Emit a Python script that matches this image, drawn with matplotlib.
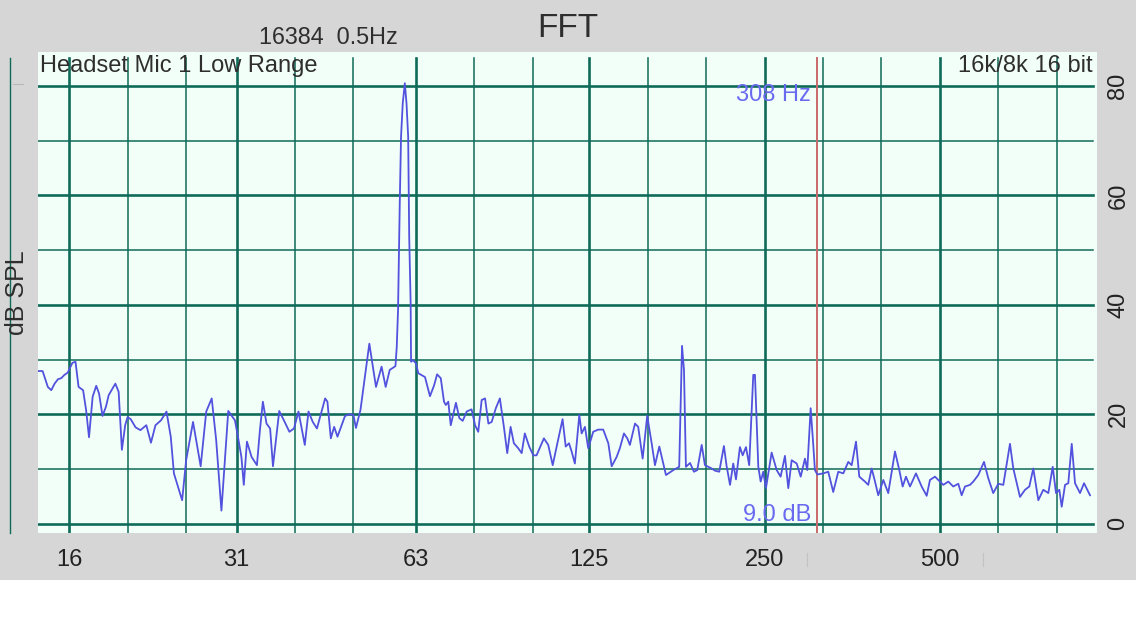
import matplotlib
matplotlib.use("Agg")
import matplotlib.pyplot as plt
from matplotlib.patches import Rectangle
from matplotlib.lines import Line2D

plt.rcParams['font.family'] = ['Liberation Sans', 'DejaVu Sans']

# ---------------- data ----------------
freq_hz = [14.1, 14.4, 14.7, 14.9, 15.1, 15.3, 15.5, 15.7, 15.9, 16.2, 16.4, 16.6, 16.9, 17.1, 17.3,
           17.55, 17.8, 18.0, 18.25, 18.5, 18.7, 19.2, 19.45, 19.7, 19.96, 20.15, 20.4, 20.8, 21.2,
           21.7, 22.1, 22.5, 23.0, 23.5, 23.9, 24.2, 25.0, 25.4, 26.1, 26.9, 27.5, 28.1, 28.6, 29.2,
           30.0, 30.8, 31.1, 31.6, 31.9, 32.3, 32.9, 33.6, 34.0, 34.4, 34.9, 35.4, 35.8, 36.7, 37.5,
           38.2, 38.9, 39.6, 40.6, 41.2, 41.9, 42.6, 44.0, 44.4, 45.0, 45.6, 46.2, 47.6, 48.5, 49.2,
           49.7, 50.6, 52.4, 53.8, 55.0, 55.9, 56.8, 58.1, 58.4, 58.7, 59.1, 59.4, 59.8, 60.3, 60.7,
           61.1, 61.35, 61.7, 61.8, 62.3, 63.0, 63.6, 65.3, 66.6, 67.7, 68.5, 69.5, 70.4, 70.9, 71.6,
           72.3, 73.8, 74.8, 75.8, 77.0, 78.5, 79.6, 80.6, 81.7, 82.8, 83.9, 85.0, 86.4, 87.8, 89.2,
           90.4, 91.6, 92.8, 94.4, 95.7, 96.9, 98.6, 100.2, 101.5, 104.5, 106.3, 108.2, 109.9, 112.5,
           113.9, 115.4, 116.6, 118.1, 120.2, 121.3, 122.9, 124.5, 127.0, 129.5, 132.1, 134.8, 136.6,
           139.3, 141.1, 143.4, 145.3, 146.8, 149.8, 151.7, 154.4, 157.2, 160.0, 162.1, 164.9, 169.3,
           174.3, 178.4, 180.4, 181.8, 183.2, 186.2, 189.1, 191.6, 195.0, 197.5, 202.8, 205.5, 209.0,
           212.9, 215.2, 218.1, 220.9, 223.3, 226.8, 229.3, 232.3, 235.3, 239.1, 240.7, 243.9, 246.2,
           248.7, 251.4, 257.1, 262.3, 266.4, 271.0, 274.6, 278.3, 283.9, 288.4, 293.3, 296.0, 300.0,
           303.1, 305.1, 308.0, 315.3, 321.6, 328.0, 334.6, 341.3, 348.1, 352.8, 358.9, 363.6, 371.8,
           376.7, 381.8, 386.9, 391.9, 399.8, 407.7, 418.7, 425.9, 431.6, 437.3, 444.3, 454.9, 465.3,
           474.6, 480.8, 490.4, 500.2, 506.8, 516.9, 527.2, 537.8, 545.0, 552.2, 563.2, 570.6, 582.0,
           595.3, 605.5, 617.5, 629.9, 642.5, 659.7, 668.4, 686.3, 700.1, 712.1, 723.4, 737.9, 752.6,
           767.7, 781.1, 791.4, 801.8, 809.4, 820.1, 830.8, 842.1, 853.2, 870.2, 884.1, 905.3]

level_db = [27.9, 27.9, 25.0, 24.4, 25.6, 26.4, 26.6, 27.2, 27.6, 29.4, 29.6, 25.0, 24.4, 20.8, 15.8,
            23.2, 25.2, 23.8, 19.7, 21.4, 23.5, 25.6, 24.1, 13.5, 18.0, 19.5, 19.1, 17.6, 17.1,
            18.0, 14.8, 18.0, 18.9, 20.5, 15.9, 9.2, 4.3, 11.6, 18.6, 10.5, 20.5, 22.9, 15.3, 2.4,
            20.6, 18.9, 16.5, 12.2, 7.1, 15.0, 12.2, 10.7, 17.1, 22.3, 18.3, 17.4, 10.5, 20.6, 18.6,
            16.8, 17.4, 20.5, 14.4, 20.5, 18.6, 17.4, 22.9, 22.3, 15.6, 17.7, 15.9, 19.7, 20.0, 19.9,
            17.5, 20.8, 32.9, 25.0, 28.7, 25.0, 28.1, 28.8, 32.3, 39.0, 58.5, 70.7, 76.8, 80.5, 76.8,
            70.7, 52.4, 40.3, 29.6, 29.9, 29.3, 27.5, 26.8, 23.3, 25.3, 27.3, 26.6, 22.3, 21.7, 22.3,
            18.0, 22.1, 19.3, 18.8, 20.5, 20.9, 18.0, 16.8, 22.6, 22.9, 18.3, 18.6, 21.1, 22.9, 17.7,
            12.9, 17.7, 14.7, 13.8, 12.9, 16.5, 14.1, 12.5, 12.5, 15.6, 14.4, 10.7, 14.1, 19.1,
            14.1, 14.7, 13.2, 11.0, 19.9, 16.5, 17.7, 13.8, 16.8, 17.2, 17.2, 14.7, 10.5,
            12.2, 13.8, 16.5, 15.6, 14.4, 18.3, 17.7, 11.9, 19.7, 14.7, 10.7, 14.1, 8.9,
            9.8, 10.4, 32.5, 28.1, 10.4, 11.1, 9.5, 9.8, 14.4, 10.7, 10.1, 9.7, 9.5,
            14.2, 10.5, 7.1, 11.0, 8.1, 14.0, 12.5, 14.0, 10.7, 27.2, 27.2, 10.4, 7.7,
            9.5, 6.5, 13.0, 9.8, 8.6, 12.4, 6.5, 11.6, 11.0, 8.6, 11.9, 9.8, 21.1,
            14.4, 9.8, 9.0, 9.2, 9.5, 5.8, 9.5, 9.2, 11.3, 10.7, 15.0, 8.6, 7.7,
            7.1, 10.1, 7.7, 5.2, 8.0, 5.6, 13.2, 9.8, 6.8, 8.6, 6.8, 9.2, 6.8,
            5.1, 8.0, 8.6, 7.7, 7.1, 7.7, 6.8, 7.3, 5.2, 6.8, 7.1, 7.7, 8.9,
            11.3, 8.3, 5.6, 7.3, 7.1, 14.6, 10.1, 4.9, 6.2, 6.8, 10.1, 4.3, 6.2,
            5.6, 10.4, 5.6, 6.2, 3.1, 7.1, 7.4, 14.6, 7.4, 5.6, 7.4, 5.2]

major_freqs = [16, 31, 63, 125, 250, 500]
major_labels = ['16', '31', '63', '125', '250', '500']
db_ticks = [0, 20, 40, 60, 80]
db_minor = [10, 30, 50, 70]
cursor_freq = 308
cursor_db = 9.0

# ---------------- styling ----------------
W, H = 1136, 640
GRAY = '#d6d6d6'
PLOT_BG = '#f2fff8'
TEAL = '#0f6b58'
TRACE = '#5252de'
CURSOR = '#c86a6a'
CURSOR_TXT = '#6a6af0'
TXT = '#2e2e2e'

fig = plt.figure(figsize=(W / 100, H / 100), dpi=100, facecolor='white')
fig.patches.append(Rectangle((0, 60 / H), 1, 1 - 60 / H, transform=fig.transFigure,
                             facecolor=GRAY, edgecolor='none', zorder=-10))

left, right, top, bottom = 38, 1097, 52, 533.3
ax = fig.add_axes([left / W, 1 - bottom / H, (right - left) / W, (bottom - top) / H])
ax.set_facecolor(PLOT_BG)
ax.set_xscale('log')
ax.set_xlim(14.14, 930.6)
ax.set_ylim(-1.75, 86.2)
for s in ax.spines.values():
    s.set_visible(False)

# grid
vg_top = (bottom - 58) / (bottom - top)
hg_right = (1093 - left) / (right - left)
for f in major_freqs:
    ax.axvline(f, ymin=0, ymax=vg_top, color=TEAL, lw=1.9, zorder=1)
    for k in (1, 2):
        fm = f * 2 ** (k / 3)
        if fm < 930:
            ax.axvline(fm, ymin=0, ymax=vg_top, color=TEAL, lw=1.1, zorder=1)
for d in db_ticks:
    ax.axhline(d, xmin=0, xmax=hg_right, color=TEAL, lw=1.9, zorder=1)
for d in db_minor:
    ax.axhline(d, xmin=0, xmax=hg_right, color=TEAL, lw=1.1, zorder=1)

ax.axvline(cursor_freq, ymin=0, ymax=vg_top, color=CURSOR, lw=1.4, zorder=2)

ax.plot(freq_hz, level_db, color=TRACE, lw=1.3, zorder=3)

# ticks
ax.set_xticks(major_freqs)
ax.set_xticklabels(major_labels)
ax.xaxis.set_minor_locator(matplotlib.ticker.NullLocator())
ax.tick_params(axis='x', length=0, pad=11.5, labelsize=17, labelcolor='#222222')
ax.yaxis.tick_right()
ax.set_yticks(db_ticks)
ax.set_yticklabels([str(v) for v in db_ticks], rotation=90, va='center')
ax.tick_params(axis='y', length=0, pad=7.5, labelsize=17, labelcolor='#222222')

# cursor readouts
ax.annotate(f'{cursor_freq} Hz', xy=(cursor_freq, 78.4), xytext=(-4.5, 0),
            textcoords='offset points', ha='right', va='center', fontsize=17,
            color=CURSOR_TXT, zorder=4)
ax.annotate(f'{cursor_db:.1f} dB', xy=(cursor_freq, 1.6), xytext=(-4.5, 0),
            textcoords='offset points', ha='right', va='center', fontsize=17,
            color=CURSOR_TXT, zorder=4)

# texts
fig.text(567.5 / W, 1 - 37 / H, 'FFT', ha='center', va='baseline', fontsize=24, color=TXT)
fig.text(259 / W, 1 - 44 / H, '16384  0.5Hz', ha='left', va='baseline', fontsize=16.8, color=TXT)
fig.text(40 / W, 1 - 72 / H, 'Headset Mic 1 Low Range', ha='left', va='baseline',
         fontsize=17, color=TXT)
fig.text(1093 / W, 1 - 72 / H, '16k/8k 16 bit', ha='right', va='baseline',
         fontsize=17, color=TXT)
fig.text(17 / W, 1 - 293 / H, 'dB SPL', rotation=90, ha='center', va='center',
         fontsize=18, color=TXT)

# left teal rule and faint marks
fig.lines.append(Line2D([9.5 / W, 9.5 / W], [1 - 58 / H, 1 - 533 / H],
                        transform=fig.transFigure, color=TEAL, lw=1.0))
fig.lines.append(Line2D([13 / W, 23 / W], [1 - 84 / H, 1 - 84 / H],
                        transform=fig.transFigure, color='#b8b8b8', lw=0.8))
for xm in (807, 983):
    fig.lines.append(Line2D([xm / W, xm / W], [1 - 553 / H, 1 - 566 / H],
                            transform=fig.transFigure, color='#c2c2c2', lw=0.8))

fig.savefig('out.png', dpi=100, facecolor=fig.get_facecolor())
